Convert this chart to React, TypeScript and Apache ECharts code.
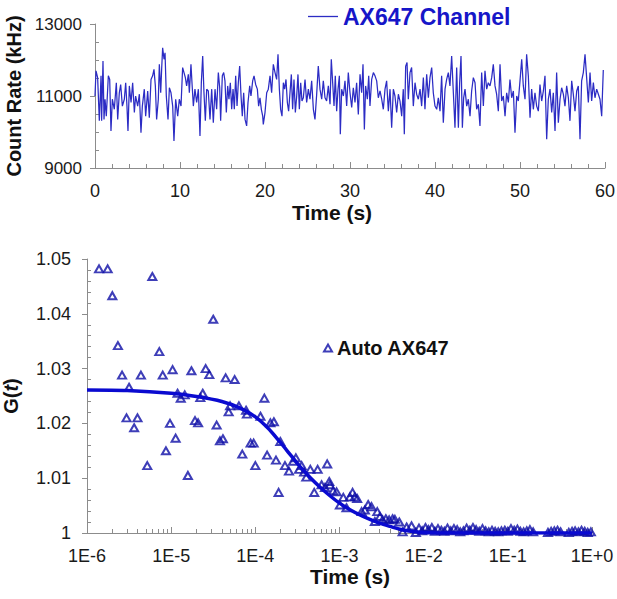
import React, { useEffect, useRef } from "react";
import * as echarts from "echarts";

// ---- Top panel: count-rate trace (time s, kHz) ----
const traceSeg1: number[][] = [
  [0.0, 11000], [0.12, 11700], [0.31, 11510], [0.51, 10310], [0.71, 11560], [0.78, 10310], [0.94, 11970], [1.06, 10350],
  [1.18, 10910], [1.33, 10440], [1.57, 11560], [1.73, 11460], [1.88, 10030], [2.04, 10910], [2.27, 10630], [2.51, 11370],
  [2.67, 10350], [2.86, 11090], [3.02, 11320], [3.22, 10720], [3.45, 10910], [3.61, 11370], [3.76, 10720], [3.88, 10030],
  [4.04, 11280], [4.24, 10820], [4.43, 11370], [4.63, 10540], [4.78, 11000], [5.02, 10720], [5.22, 11050], [5.41, 9980],
  [5.57, 10720], [5.8, 11190], [5.96, 10440], [6.2, 11140], [6.39, 10400], [6.59, 11460], [6.78, 11560], [6.94, 11740],
  [7.1, 11280], [7.25, 10350], [7.45, 10910], [7.57, 11880], [7.73, 11090], [7.84, 11740], [7.96, 12340], [8.12, 12020],
  [8.24, 12200], [8.39, 11000], [8.59, 10350], [8.75, 11230], [8.94, 11090], [9.14, 10720], [9.29, 9750], [9.49, 10910],
  [9.73, 10440], [9.92, 10910], [10.12, 10720], [10.31, 11790], [10.47, 11650], [10.63, 11510], [10.78, 11280], [10.98, 11600],
  [11.1, 11090], [11.29, 11880], [11.41, 11370], [11.57, 10720], [11.76, 11190], [11.96, 10820], [12.16, 11190], [12.35, 9890],
  [12.51, 11370], [12.67, 12110], [12.82, 11090], [12.98, 10310], [13.14, 11190], [13.33, 11140], [13.53, 10350], [13.73, 11190],
  [13.92, 10260], [14.12, 11190], [14.31, 10630], [14.51, 11650], [14.67, 11230], [14.78, 10310], [14.98, 11560], [15.14, 11650],
  [15.29, 11420], [15.45, 10540], [15.61, 11280], [15.76, 10910], [15.92, 11370], [16.08, 10630], [16.24, 11190], [16.39, 10630],
  [16.55, 11560], [16.71, 10720], [16.86, 11370], [17.02, 11830], [17.18, 11000], [17.33, 10440], [17.49, 11090], [17.65, 10350],
  [17.84, 10170], [18.0, 10820], [18.2, 11280], [18.35, 11000], [18.55, 11420], [18.71, 11560], [18.9, 11320], [19.1, 11190],
  [19.25, 10720], [19.41, 10950], [19.57, 10630], [19.73, 10440],
];
const traceSeg2: number[][] = [
  [19.8, 10210], [20.0, 10540], [20.2, 11090], [20.39, 11190], [20.59, 11560], [20.78, 11090], [20.98, 11880], [21.18, 11650],
  [21.37, 11460], [21.53, 12160], [21.69, 11190], [21.84, 10630], [22.0, 10440], [22.16, 11370], [22.31, 11190], [22.47, 11460],
  [22.63, 10820], [22.78, 10580], [22.94, 11090], [23.1, 11600], [23.25, 10630], [23.41, 11460], [23.57, 10540], [23.73, 11000],
  [23.88, 11600], [24.04, 10630], [24.2, 11370], [24.35, 10860], [24.51, 10950], [24.71, 11460], [24.9, 10820], [25.1, 11190],
  [25.29, 10910], [25.49, 11420], [25.69, 10630], [25.88, 10350], [26.08, 11050], [26.27, 11830], [26.47, 11190], [26.67, 10910],
  [26.86, 11420], [27.06, 10950], [27.25, 10860], [27.45, 11280], [27.65, 10770], [27.8, 12020], [27.96, 11370], [28.12, 10720],
  [28.27, 11560], [28.43, 10580], [28.59, 11190], [28.75, 11560], [28.86, 9940], [29.02, 11190], [29.22, 11000], [29.41, 11420],
  [29.61, 10720], [29.8, 11650], [30.0, 11090], [30.2, 10680], [30.39, 11230], [30.59, 10820], [30.78, 11370], [30.98, 10490],
  [31.18, 11600], [31.37, 11090], [31.53, 11880], [31.69, 10070], [31.84, 11280], [32.04, 10910], [32.2, 11560], [32.35, 10720],
  [32.55, 11460], [32.75, 11650], [32.94, 11560], [33.14, 11420], [33.33, 10950], [33.53, 11140], [33.73, 10910], [33.92, 10630],
  [34.12, 11190], [34.31, 11420], [34.51, 10580], [34.71, 11190], [34.9, 10120], [35.1, 11190], [35.29, 11000], [35.49, 10540],
  [35.69, 11050], [35.88, 10860], [36.08, 10440], [36.27, 11190], [36.39, 9940], [36.55, 11830], [36.71, 11930], [36.86, 10910],
  [37.06, 11650], [37.25, 11790], [37.45, 10720], [37.65, 11370], [37.84, 11050], [38.04, 10910], [38.24, 11190], [38.43, 10720],
  [38.63, 11510], [38.82, 10630], [39.02, 11600], [39.22, 10950], [39.41, 11510], [39.61, 11790], [39.8, 11090], [40.0, 10720],
];
const traceSeg3: number[][] = [
  [40.2, 10630], [40.39, 10950], [40.59, 10580], [40.78, 11560], [40.98, 10260], [41.18, 11190], [41.37, 11460], [41.57, 11650],
  [41.76, 11280], [41.96, 12110], [42.16, 11090], [42.35, 10120], [42.55, 11790], [42.75, 10120], [42.9, 11370], [43.06, 12110],
  [43.22, 10120], [43.37, 10950], [43.53, 11190], [43.73, 10720], [43.92, 10910], [44.12, 10440], [44.31, 11140], [44.51, 11510],
  [44.71, 11370], [44.9, 10630], [45.1, 10770], [45.29, 10170], [45.49, 11650], [45.69, 10720], [45.88, 11700], [46.08, 11190],
  [46.27, 11370], [46.47, 11280], [46.67, 11510], [46.86, 11880], [47.06, 11280], [47.25, 11050], [47.45, 10580], [47.65, 11880],
  [47.84, 10860], [48.04, 11000], [48.24, 10440], [48.43, 11090], [48.63, 10820], [48.82, 11460], [49.02, 10950], [49.22, 11140],
  [49.41, 9980], [49.61, 11000], [49.8, 10860], [50.0, 11420], [50.2, 12020], [50.39, 11280], [50.59, 10910], [50.78, 12160],
  [50.98, 11560], [51.18, 10400], [51.37, 11190], [51.57, 10630], [51.76, 11090], [51.96, 10720], [52.16, 10580], [52.35, 11320],
  [52.55, 10860], [52.75, 11140], [52.94, 11560], [53.14, 9800], [53.33, 10910], [53.53, 11190], [53.73, 10540], [53.92, 11090],
  [54.12, 10030], [54.31, 11650], [54.51, 10260], [54.71, 10910], [54.9, 11230], [55.1, 11050], [55.29, 10720], [55.49, 11280],
  [55.69, 10950], [55.88, 10310], [56.08, 11420], [56.27, 11050], [56.47, 10580], [56.67, 11140], [56.86, 11280], [57.06, 9800],
  [57.25, 11420], [57.45, 11650], [57.65, 12160], [57.84, 11510], [58.04, 10820], [58.24, 11650], [58.43, 10860], [58.63, 11370],
  [58.82, 10950], [59.02, 11190], [59.22, 11050], [59.41, 10910], [59.61, 10440], [59.8, 11720],
];

// ---- Bottom panel: autocorrelation points [lag time s, G(t)] ----
const autoCorr: number[][] = [
  [1.39e-6, 1.0482], [1.76e-6, 1.0482], [2.0e-6, 1.0433], [2.33e-6, 1.0342], [2.61e-6, 1.0288], [2.95e-6, 1.021],
  [3.16e-6, 1.0266], [3.63e-6, 1.0192], [3.98e-6, 1.021], [4.37e-6, 1.0288], [5.2e-6, 1.0123], [5.97e-6, 1.0468],
  [7.23e-6, 1.0331], [7.94e-6, 1.0288], [8.67e-6, 1.015], [9.68e-6, 1.02], [1.04e-5, 1.0298], [1.13e-5, 1.0173],
  [1.19e-5, 1.0255], [1.3e-5, 1.0246], [1.45e-5, 1.0252], [1.58e-5, 1.0105], [1.74e-5, 1.0296], [1.92e-5, 1.0205],
  [2.09e-5, 1.0201], [2.22e-5, 1.0247], [2.37e-5, 1.0255], [2.57e-5, 1.03], [2.84e-5, 1.0289], [3.16e-5, 1.039],
  [3.47e-5, 1.0197], [3.8e-5, 1.0168], [4.12e-5, 1.0172], [4.44e-5, 1.0283], [4.82e-5, 1.0221], [5.01e-5, 1.0232],
  [5.68e-5, 1.028], [6.38e-5, 1.0232], [7.0e-5, 1.0144], [7.76e-5, 1.0224], [7.94e-5, 1.0217], [8.79e-5, 1.0164],
  [9.55e-5, 1.0164], [1.0e-4, 1.0123], [1.15e-4, 1.0213], [1.28e-4, 1.0246], [1.38e-4, 1.0142], [1.51e-4, 1.0201],
  [1.66e-4, 1.0203], [1.76e-4, 1.0133], [1.89e-4, 1.0074], [1.98e-4, 1.0167], [2.25e-4, 1.0123], [2.51e-4, 1.0113],
  [2.8e-4, 1.0131], [3.03e-4, 1.0137], [3.31e-4, 1.0116], [3.55e-4, 1.0123], [3.8e-4, 1.0111], [4.03e-4, 1.0102],
  [4.5e-4, 1.0116], [5.01e-4, 1.0074], [5.5e-4, 1.0116], [6.12e-4, 1.0088], [6.71e-4, 1.0083], [7.14e-4, 1.0126],
  [7.55e-4, 1.0094], [7.69e-4, 1.0088], [8.41e-4, 1.0077], [9.23e-4, 1.0075], [1.01e-3, 1.0051], [1.11e-3, 1.0065],
  [1.21e-3, 1.0046], [1.33e-3, 1.0066], [1.43e-3, 1.0074], [1.52e-3, 1.0066], [1.62e-3, 1.0063], [1.83e-3, 1.0039],
  [2.0e-3, 1.0042], [2.19e-3, 1.0052], [2.4e-3, 1.0048], [2.63e-3, 1.0021], [2.81e-3, 1.0039], [3.02e-3, 1.003],
  [3.25e-3, 1.0024], [3.55e-3, 1.0026], [3.89e-3, 1.0024], [4.27e-3, 1.0026], [4.55e-3, 1.0025], [5.13e-3, 1.002],
  [5.62e-3, 1.0002], [6.27e-3, 1.0011], [7.18e-3, 1.0013], [8.07e-3, 1.0001], [8.8e-3, 1.0009], [9.6e-3, 1.0004],
  [1.05e-2, 1.001], [1.14e-2, 1.0006], [1.25e-2, 1.001], [1.36e-2, 1.0003], [1.48e-2, 1.0008], [1.62e-2, 1.0005],
  [1.76e-2, 1.0003], [1.92e-2, 1.0009], [2.1e-2, 1.0004], [2.29e-2, 1.0008], [2.5e-2, 1.0006], [2.72e-2, 1.0002],
  [2.97e-2, 1.0004], [3.24e-2, 1.0009], [3.53e-2, 1.0005], [3.85e-2, 1.001], [4.2e-2, 1.0006], [4.58e-2, 1.0003],
  [5.0e-2, 1.0008], [5.45e-2, 1.0004], [5.94e-2, 1.0002], [6.48e-2, 1.0005], [7.07e-2, 1.0003], [7.7e-2, 1.0002],
  [8.4e-2, 1.0004], [9.2e-2, 1.0005], [0.1, 1.0003], [0.109, 1.0008], [0.119, 1.0005], [0.13, 1.0007],
  [0.141, 1.0003], [0.154, 1.0002], [0.168, 1.0004], [0.183, 1.0006], [0.2, 1.0002], [0.3, 1.0001],
  [0.327, 1.0003], [0.357, 1.0004], [0.389, 1.0005], [0.424, 1.0002], [0.53, 1.0001], [0.58, 1.0003],
  [0.63, 1.0004], [0.69, 1.0002], [0.75, 1.0005], [0.82, 1.0003], [0.89, 1.0001], [0.97, 1.0002],
];

// fitted curve
const fitTime: number[] = [
  1e-6, 3e-6, 1e-5, 2e-5, 4e-5, 6.6e-5, 1e-4, 1.4e-4, 1.94e-4, 2.6e-4, 3.4e-4, 4.5e-4, 5.85e-4, 7.7e-4,
  1.01e-3, 1.35e-3, 1.75e-3, 2.3e-3, 3.0e-3, 4.0e-3, 5.2e-3, 8.2e-3, 1.5e-2, 1e-1, 1,
];
const fitG: number[] = [
  1.0261, 1.026, 1.0255, 1.0249, 1.024, 1.0228, 1.0212, 1.0192, 1.0167, 1.0143, 1.0121, 1.0101, 1.0084, 1.0068,
  1.0054, 1.0042, 1.0033, 1.0025, 1.0018, 1.0012, 1.0007, 1.0002, 1.0, 1.0, 1.0,
];

// tick labels and minor-tick positions
const logTickLabels = ["1E-6", "1E-5", "1E-4", "1E-3", "1E-2", "1E-1", "1E+0"];
const minorMultipliers = [2, 3, 4, 5, 6, 7, 8, 9];
const rateMinorTicks = [9500, 10000, 10500, 11500, 12000, 12500];
const gMinorTicks = [
  1.002, 1.004, 1.006, 1.008, 1.012, 1.014, 1.016, 1.018, 1.022, 1.024, 1.026, 1.028,
  1.032, 1.034, 1.036, 1.038, 1.042, 1.044, 1.046, 1.048,
];

const FONT = "'Liberation Sans', Arial, Helvetica, sans-serif";
const AXIS_GRAY = "#8c8c8c";
const LABEL_COLOR = "#1a1a1a";

export default function App() {
  const ref = useRef<HTMLDivElement>(null);
  useEffect(() => {
    if (!ref.current) return;
    const chart = echarts.init(ref.current, undefined, { renderer: "svg" });
    const trace = [...traceSeg1, ...traceSeg2, ...traceSeg3];
    const fitData = fitTime.map((t, i) => [t, fitG[i]]);
    const logMinorTicks: number[] = [];
    for (let e = -6; e < 0; e++) {
      minorMultipliers.forEach((m) => logMinorTicks.push(Number((m * Math.pow(10, e)).toPrecision(6))));
    }
    const labelStyle = { color: LABEL_COLOR, fontFamily: FONT, fontSize: 17 };
    const titleStyle = { color: "#111", fontFamily: FONT, fontSize: 21, fontWeight: "bold" as const };
    const tickLine = { color: AXIS_GRAY, width: 1 };

    chart.setOption({
      animation: false,
      backgroundColor: "#ffffff",
      textStyle: { fontFamily: FONT },
      grid: [
        { left: 95, top: 24, width: 510, height: 144, outerBoundsMode: "none" },
        { left: 87, top: 259, width: 505, height: 274, outerBoundsMode: "none" },
      ],
      legend: [
        {
          data: [{ name: "AX647 Channel", icon: "rect" }],
          left: 308,
          top: 5,
          padding: 0,
          itemWidth: 30,
          itemHeight: 1.3,
          selectedMode: false,
          textStyle: { color: "#1616c8", fontFamily: FONT, fontSize: 23, fontWeight: "bold" },
        },
        {
          data: ["Auto AX647"],
          left: 323,
          top: 338,
          padding: 0,
          itemWidth: 8,
          itemHeight: 7,
          selectedMode: false,
          textStyle: { color: "#111", fontFamily: FONT, fontSize: 20, fontWeight: "bold" },
        },
      ],
      xAxis: [
        {
          type: "value",
          gridIndex: 0,
          min: 0,
          max: 60,
          interval: 10,
          name: "Time (s)",
          nameLocation: "middle",
          nameGap: 34,
          nameTextStyle: { ...titleStyle, padding: [0, 36, 0, 0] },
          axisLine: { lineStyle: { color: AXIS_GRAY, width: 1 } },
          axisTick: { show: true, inside: true, length: 6, lineStyle: tickLine },
          minorTick: { show: true, splitNumber: 5, length: 4, lineStyle: tickLine },
          axisLabel: { ...labelStyle, fontSize: 18, margin: 14 },
          splitLine: { show: false },
        },
        {
          type: "log",
          gridIndex: 1,
          min: 1e-6,
          max: 1,
          logBase: 10,
          name: "Time (s)",
          nameLocation: "middle",
          nameGap: 31,
          nameTextStyle: { ...titleStyle, padding: [0, 0, 0, 21] },
          axisLine: { lineStyle: { color: AXIS_GRAY, width: 1 } },
          axisTick: { show: true, inside: true, length: 6, lineStyle: tickLine },
          axisLabel: {
            ...labelStyle,
            fontSize: 18,
            margin: 14,
            formatter: (v: number) => logTickLabels[Math.round(Math.log10(v)) + 6] ?? "",
          },
          splitLine: { show: false },
        },
        {
          type: "log",
          gridIndex: 1,
          position: "bottom",
          min: 1e-6,
          max: 1,
          logBase: 10,
          axisLine: { show: false },
          axisLabel: { show: false },
          axisTick: { show: true, inside: true, length: 4, customValues: logMinorTicks, lineStyle: tickLine },
          splitLine: { show: false },
        },
      ],
      yAxis: [
        {
          type: "value",
          gridIndex: 0,
          min: 9000,
          max: 13000,
          interval: 2000,
          name: "Count Rate (kHz)",
          nameLocation: "middle",
          nameGap: 70,
          nameTextStyle: { ...titleStyle, fontSize: 20 },
          axisLine: { show: true, lineStyle: { color: AXIS_GRAY, width: 1 } },
          axisTick: { show: true, inside: false, length: 5, lineStyle: tickLine },
          axisLabel: { ...labelStyle, margin: 13, formatter: (v: number) => String(v) },
          splitLine: { show: false },
        },
        {
          type: "value",
          gridIndex: 1,
          min: 1,
          max: 1.05,
          interval: 0.01,
          name: "{a|G(}{b|t}{a|)}",
          nameLocation: "middle",
          nameGap: 66,
          nameTextStyle: {
            ...titleStyle,
            rich: {
              a: { fontFamily: FONT, fontSize: 20, fontWeight: "bold", color: "#111" },
              b: { fontFamily: FONT, fontSize: 20, fontWeight: "bold", fontStyle: "italic", color: "#111" },
            },
          },
          axisLine: { show: true, lineStyle: { color: AXIS_GRAY, width: 1 } },
          axisTick: { show: true, inside: false, length: 5, lineStyle: tickLine },
          axisLabel: {
            ...labelStyle,
            fontSize: 18,
            margin: 16,
            formatter: (v: number) => (Math.abs(v - 1) < 1e-9 ? "1" : v.toFixed(2)),
          },
          splitLine: { show: false },
        },
        {
          type: "value",
          gridIndex: 0,
          position: "left",
          min: 9000,
          max: 13000,
          axisLine: { show: false },
          axisLabel: { show: false },
          axisTick: { show: true, inside: true, length: 4, customValues: rateMinorTicks, lineStyle: tickLine },
          splitLine: { show: false },
        },
        {
          type: "value",
          gridIndex: 1,
          position: "left",
          min: 1,
          max: 1.05,
          axisLine: { show: false },
          axisLabel: { show: false },
          axisTick: { show: true, inside: true, length: 4, customValues: gMinorTicks, lineStyle: tickLine },
          splitLine: { show: false },
        },
      ],
      series: [
        {
          name: "AX647 Channel",
          type: "line",
          xAxisIndex: 0,
          yAxisIndex: 0,
          data: trace,
          symbol: "none",
          lineStyle: { color: "#2c2cc4", width: 1.25 },
          itemStyle: { color: "#2c2cc4" },
        },
        {
          name: "Auto AX647",
          type: "scatter",
          xAxisIndex: 1,
          yAxisIndex: 1,
          data: autoCorr,
          symbol: "triangle",
          symbolSize: [8, 7],
          itemStyle: { color: "rgba(255,255,255,0)", borderColor: "#0e0ea6", borderWidth: 2 },
          z: 2,
        },
        {
          name: "Fit",
          type: "line",
          xAxisIndex: 1,
          yAxisIndex: 1,
          data: fitData,
          symbol: "none",
          smooth: 0.3,
          lineStyle: { color: "#0a0ad0", width: 3.5 },
          z: 3,
        },
      ],
    });
    return () => chart.dispose();
  }, []);
  return (
    <div
      ref={ref}
      style={{ position: "absolute", left: 0, top: 0, width: 617, height: 599, background: "#fff" }}
    />
  );
}
